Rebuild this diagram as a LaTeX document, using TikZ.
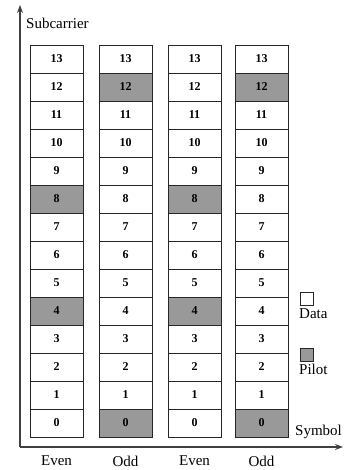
\documentclass[tikz,border=0pt]{standalone}
\usepackage{fontspec}
\setmainfont{Liberation Serif}
\usetikzlibrary{arrows.meta}
\begin{document}
\begin{tikzpicture}[>={Stealth[length=8pt,width=6pt]}, x=1pt, y=-1pt,
  cell/.style={draw=black!85, line width=0.8pt, minimum width=53pt, minimum height=28pt,
    inner sep=0pt, font=\fontsize{12}{12}\selectfont\bfseries},
  pilot/.style={cell, fill=black!40},
  lbl/.style={font=\fontsize{15}{15}\selectfont, inner sep=0pt}]
\useasboundingbox (0,0) rectangle (350,470);
% axes
\coordinate (origin) at (20,447);
\coordinate (ytip) at (20,5);
\coordinate (xtip) at (343,447);
\draw[->, black!75, line width=1.2pt] (origin) -- (ytip);
\draw[->, black!75, line width=1.2pt] (origin) -- (xtip);
\node[lbl, anchor=west] (ylab) at (26,23) {Subcarrier};
\node[lbl, anchor=west] (xlab) at (295,432) {Symbol};
% subcarrier grid
\foreach \col/\x/\sym/\pa/\pb in {1/56.5/Even/4/8, 2/125.5/Odd/0/12, 3/194.5/Even/4/8, 4/261.5/Odd/0/12} {
  \foreach \row in {0,...,13} {
    \pgfmathsetmacro{\yy}{59+(13-\row)*28}
    \ifnum\row=\pa
      \node[pilot] (c\col-\row) at (\x,\yy) {\row};
    \else\ifnum\row=\pb
      \node[pilot] (c\col-\row) at (\x,\yy) {\row};
    \else
      \node[cell] (c\col-\row) at (\x,\yy) {\row};
    \fi\fi
  }
  \node[lbl] (s\col) at (\x,461) {\sym};
}
% legend
\node[draw=black!85, line width=0.8pt, minimum size=13pt, inner sep=0pt] (databox) at (306.5,298.5) {};
\node[lbl, anchor=north west] (datalab) at (299,308) {Data};
\node[draw=black!85, fill=black!40, line width=0.8pt, minimum size=13pt, inner sep=0pt] (pilotbox) at (306.5,354.5) {};
\node[lbl, anchor=north west] (pilotlab) at (299,364) {Pilot};
\end{tikzpicture}
\end{document}
